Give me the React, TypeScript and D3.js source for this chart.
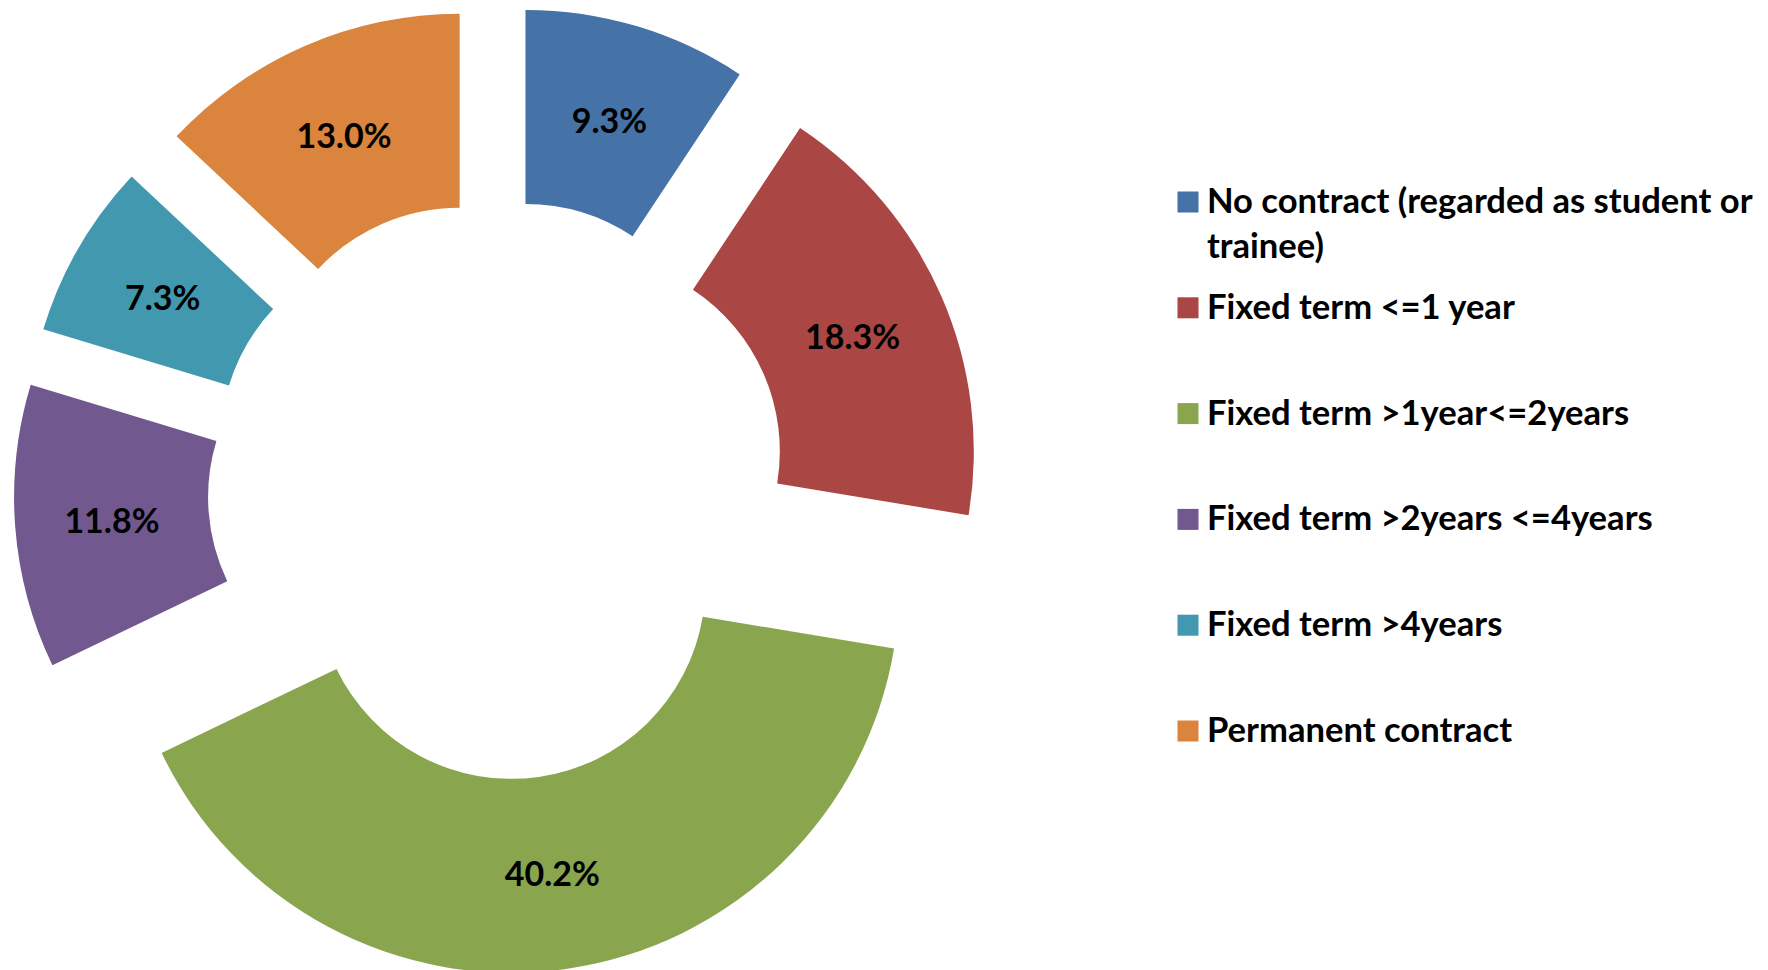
import React from "react";
import * as d3 from "d3";

const categories: string[] = [
  "No contract (regarded as student or trainee)",
  "Fixed term <=1 year",
  "Fixed term >1year<=2years",
  "Fixed term >2years <=4years",
  "Fixed term >4years",
  "Permanent contract",
];
const values: number[] = [9.3, 18.3, 40.2, 11.8, 7.3, 13.0];
const valueLabels: string[] = ["9.3%", "18.3%", "40.2%", "11.8%", "7.3%", "13.0%"];
const legendLines: string[][] = [
  ["No contract (regarded as student or", "trainee)"],
  ["Fixed term <=1 year"],
  ["Fixed term >1year<=2years"],
  ["Fixed term >2years <=4years"],
  ["Fixed term >4years"],
  ["Permanent contract"],
];
const colors: string[] = ["#4572A7", "#AA4643", "#89A54E", "#71588F", "#4198AF", "#DB843D"];

const W = 1768;
const H = 970;
const CX = 497.8;
const CY = 489.8;
const R_OUT = 388;
const R_IN = 194;
const EXPLODE = 96;
const FONT = "Lato, 'Open Sans', sans-serif";

export default function App() {
  const pie = d3
    .pie<number>()
    .sort(null)
    .value((d) => d)
    .startAngle(0)
    .endAngle(2 * Math.PI);
  const arcs = pie(values);
  const arcGen = d3.arc<d3.PieArcDatum<number>>().innerRadius(R_IN).outerRadius(R_OUT);

  const legendY = d3.scaleLinear().domain([0, 1]).range([202, 307.8]);

  return (
    <svg
      width={W}
      height={H}
      style={{ position: "absolute", left: 0, top: 0, background: "#fff" }}
    >
      <g transform={`translate(${CX},${CY})`}>
        {arcs.map((a, i) => {
          const mid = (a.startAngle + a.endAngle) / 2;
          const dx = Math.sin(mid) * EXPLODE;
          const dy = -Math.cos(mid) * EXPLODE;
          const [lx, ly] = arcGen.centroid(a);
          return (
            <g key={i} transform={`translate(${dx},${dy})`}>
              <path d={arcGen(a) || ""} fill={colors[i]} />
              <text
                x={lx}
                y={ly}
                textAnchor="middle"
                dominantBaseline="central"
                fontFamily={FONT}
                fontWeight="bold"
                fontSize={34}
                fill="#000"
              >
                {valueLabels[i]}
              </text>
            </g>
          );
        })}
      </g>
      <g>
        {categories.map((c, i) => {
          const y = legendY(i);
          return (
            <g key={c}>
              <rect x={1177.5} y={y - 10.5} width={21} height={21} fill={colors[i]} />
              <text
                x={1207}
                y={y + 11}
                fontFamily={FONT}
                fontWeight="bold"
                fontSize={34.6}
                fill="#000"
              >
                {legendLines[i].map((ln, j) => (
                  <tspan key={j} x={1207} dy={j === 0 ? 0 : 45}>
                    {ln}
                  </tspan>
                ))}
              </text>
            </g>
          );
        })}
      </g>
    </svg>
  );
}
